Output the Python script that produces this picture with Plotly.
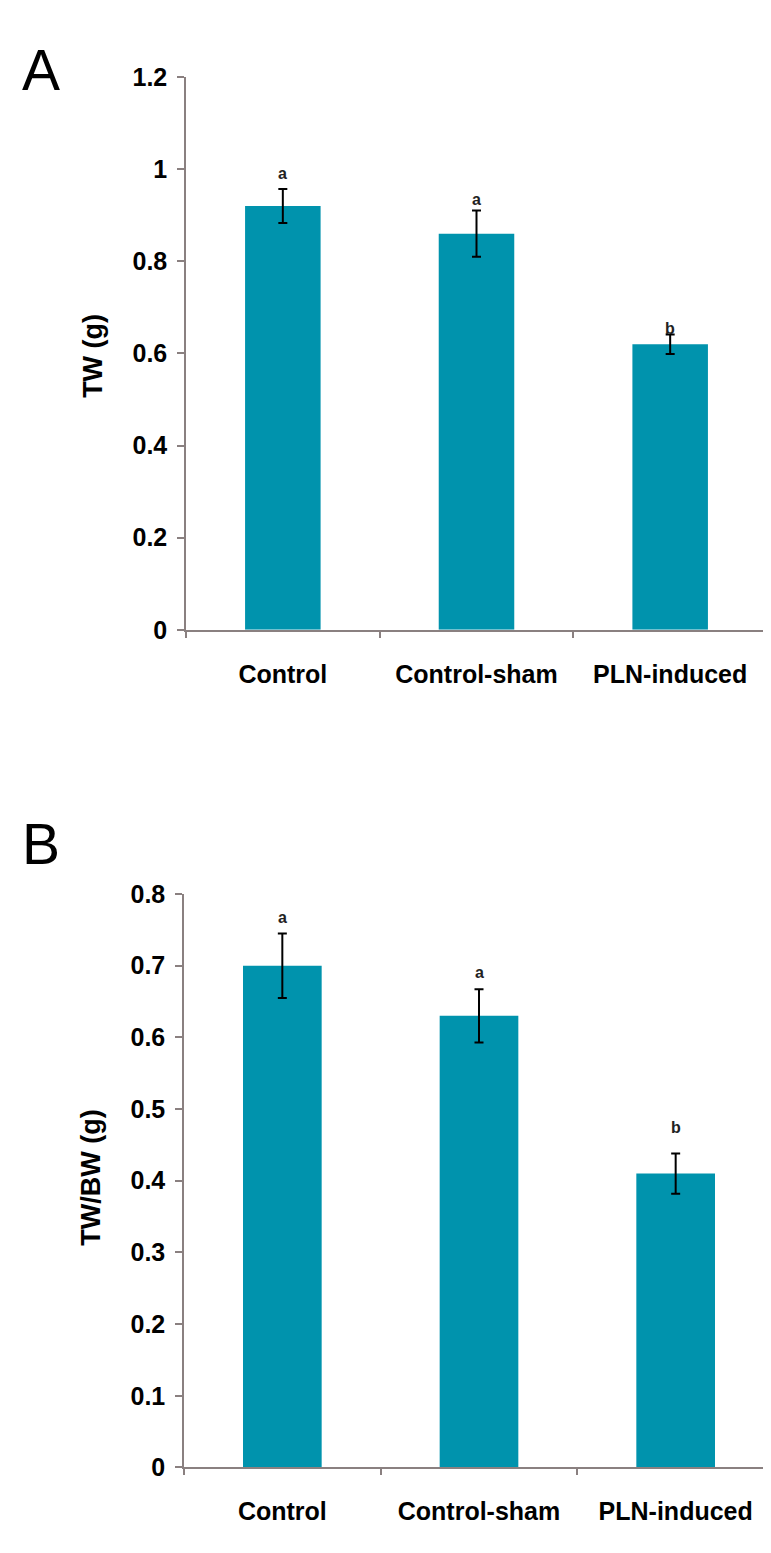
import plotly.graph_objects as go

# ---- data ----
categories = ["Control", "Control-sham", "PLN-induced"]

tw = [0.92, 0.86, 0.62]
tw_err = [0.037, 0.05, 0.021]
tw_letters = ["a", "a", "b"]
tw_letter_y = [0.99, 0.935, 0.655]

twbw = [0.70, 0.63, 0.41]
twbw_err = [0.045, 0.037, 0.028]
twbw_letters = ["a", "a", "b"]
twbw_letter_y = [0.767, 0.69, 0.474]

A_ticks = [0, 0.2, 0.4, 0.6, 0.8, 1, 1.2]
B_ticks = [0, 0.1, 0.2, 0.3, 0.4, 0.5, 0.6, 0.7, 0.8]

# ---- style ----
W, H = 771, 1553
BAR = "#0093AD"
AXC = "#8a8080"
FONT = "Liberation Sans, Arial, sans-serif"


def px(xp):
    return xp / W


def py(yp):
    return 1 - yp / H


fig = go.Figure()

err_style = dict(type="data", color="black", thickness=2, width=4.5, visible=True)

fig.add_trace(go.Bar(
    x=categories, y=tw, width=0.39, marker_color=BAR, marker_line_width=0,
    error_y=dict(array=tw_err, **err_style), xaxis="x", yaxis="y", showlegend=False,
))
fig.add_trace(go.Bar(
    x=categories, y=twbw, width=0.40, marker_color=BAR, marker_line_width=0,
    error_y=dict(array=twbw_err, **err_style), xaxis="x2", yaxis="y2", showlegend=False,
))

tickfont = dict(family=FONT, size=25, color="black", weight="bold")

xcommon = dict(type="category", range=[-0.5, 2.5], showline=True, linecolor=AXC, linewidth=1.5,
               ticks="outside", tickson="boundaries", ticklen=6, tickcolor=AXC, tickwidth=1.5,
               showgrid=False, zeroline=False, tickfont=tickfont, ticklabelstandoff=21,
               fixedrange=True)
ycommon = dict(showline=True, linecolor=AXC, linewidth=1.5, ticks="outside", ticklen=7,
               tickcolor=AXC, tickwidth=1.5, showgrid=False, zeroline=False, tickfont=tickfont,
               ticklabelstandoff=5, fixedrange=True)

fig.update_layout(
    width=W, height=H,
    margin=dict(l=0, r=0, t=0, b=0),
    paper_bgcolor="white", plot_bgcolor="white",
    xaxis=dict(domain=[px(178), px(759)], anchor="y", **xcommon),
    yaxis=dict(domain=[py(619), py(56)], anchor="x", range=[0, 1.2],
               tickvals=A_ticks, ticktext=[f"{v:g}" for v in A_ticks], **ycommon),
    xaxis2=dict(domain=[px(176), px(766)], anchor="y2", **xcommon),
    yaxis2=dict(domain=[py(1472), py(888)], anchor="x2", range=[0, 0.8],
                tickvals=B_ticks, ticktext=[f"{v:g}" for v in B_ticks], **ycommon),
    showlegend=False,
)

ann = []
letter_font = dict(family=FONT, size=16, color="#222222", weight="bold")
for c, t, yv in zip(categories, tw_letters, tw_letter_y):
    ann.append(dict(x=c, y=yv, xref="x", yref="y", text=t, showarrow=False,
                    font=letter_font, xanchor="center", yanchor="middle"))
for c, t, yv in zip(categories, twbw_letters, twbw_letter_y):
    ann.append(dict(x=c, y=yv, xref="x2", yref="y2", text=t, showarrow=False,
                    font=letter_font, xanchor="center", yanchor="middle"))

panel_font = dict(family=FONT, size=57, color="black")
ann.append(dict(x=px(12), y=py(49), xref="paper", yref="paper", text="A", showarrow=False,
                font=panel_font, xanchor="left", yanchor="middle"))
ann.append(dict(x=px(12), y=py(837), xref="paper", yref="paper", text="B", showarrow=False,
                font=panel_font, xanchor="left", yanchor="middle"))

title_font = dict(family=FONT, size=27, color="black", weight="bold")
ann.append(dict(x=px(85), y=py(340), xref="paper", yref="paper", text="TW (g)", textangle=-90,
                showarrow=False, font=title_font, xanchor="center", yanchor="middle"))
ann.append(dict(x=px(83), y=py(1177), xref="paper", yref="paper", text="TW/BW (g)", textangle=-90,
                showarrow=False, font=title_font, xanchor="center", yanchor="middle"))

fig.update_layout(annotations=ann)

fig.write_html("out.html")
